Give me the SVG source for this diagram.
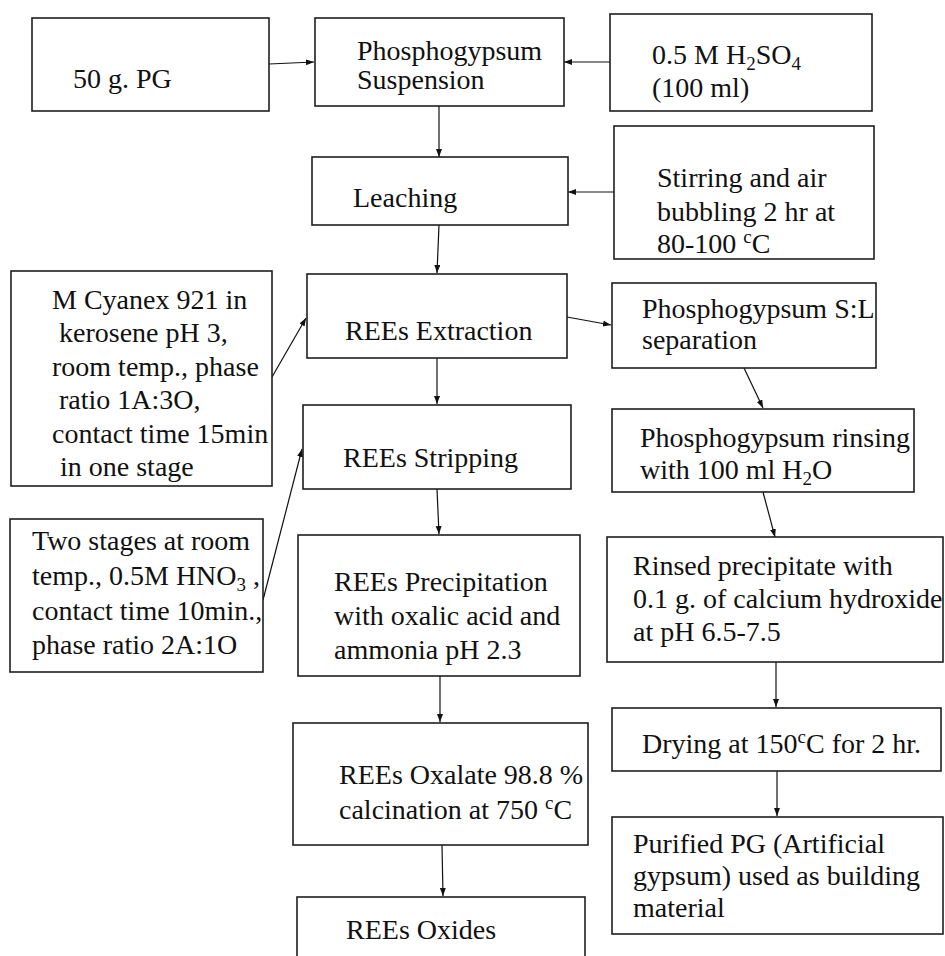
<svg xmlns="http://www.w3.org/2000/svg" width="945" height="956" viewBox="0 0 945 956">
<style>
.box{fill:#fff;stroke:#1e1e1e;stroke-width:1.6}
.t{font-family:"Liberation Serif","Times New Roman",serif;font-size:28px;fill:#111}
.c{stroke:#111;stroke-width:1.2;fill:none;marker-end:url(#ah)}
.sub{font-size:19px}
</style>
<defs>
<marker id="ah" markerUnits="userSpaceOnUse" markerWidth="9" markerHeight="7" refX="8" refY="3" orient="auto">
<path d="M0,0 L8,3 L0,6 z" fill="#111"/>
</marker>
</defs>
<rect width="945" height="956" fill="#fff"/>
<g id="connectors">
<line class="c" x1="269" y1="64" x2="314" y2="62"/>
<line class="c" x1="610" y1="62" x2="564" y2="62"/>
<line class="c" x1="439" y1="106" x2="439" y2="157"/>
<line class="c" x1="614" y1="192" x2="568" y2="192"/>
<line class="c" x1="439" y1="225" x2="437" y2="273"/>
<line class="c" x1="272" y1="377" x2="306" y2="318"/>
<line class="c" x1="567" y1="317" x2="611" y2="325"/>
<line class="c" x1="744" y1="368" x2="763" y2="408"/>
<line class="c" x1="437" y1="358" x2="437" y2="404"/>
<line class="c" x1="263" y1="600" x2="302" y2="449"/>
<line class="c" x1="763" y1="492" x2="775" y2="537"/>
<line class="c" x1="437" y1="489" x2="439" y2="534"/>
<line class="c" x1="440" y1="676" x2="440" y2="722"/>
<line class="c" x1="442" y1="845" x2="443" y2="896"/>
<line class="c" x1="776" y1="662" x2="776" y2="707"/>
<line class="c" x1="777" y1="771" x2="777" y2="816"/>
</g>
<g id="n-pg">
<rect class="box" x="32" y="18" width="237" height="93"/>
<text class="t" x="73" y="88">50 g. PG</text>
</g>
<g id="n-suspension">
<rect class="box" x="315" y="18" width="249" height="88"/>
<text class="t" x="357" y="60">Phosphogypsum</text>
<text class="t" x="357" y="89">Suspension</text>
</g>
<g id="n-h2so4">
<rect class="box" x="610" y="14" width="262" height="97"/>
<text class="t" x="652" y="64">0.5 M H<tspan class="sub" dy="6">2</tspan><tspan dy="-6">SO</tspan><tspan class="sub" dy="6">4</tspan></text>
<text class="t" x="652" y="97">(100 ml)</text>
</g>
<g id="n-leaching">
<rect class="box" x="312" y="157" width="256" height="68"/>
<text class="t" x="353" y="207">Leaching</text>
</g>
<g id="n-stirring">
<rect class="box" x="614" y="126" width="260" height="133"/>
<text class="t" x="657" y="187">Stirring and air</text>
<text class="t" x="657" y="221">bubbling 2 hr at</text>
<text class="t" x="657" y="253">80-100 <tspan class="sub" dy="-10">c</tspan><tspan dy="10">C</tspan></text>
</g>
<g id="n-extraction">
<rect class="box" x="307" y="274" width="260" height="84"/>
<text class="t" x="345" y="340">REEs Extraction</text>
</g>
<g id="n-cyanex">
<rect class="box" x="11" y="271" width="261" height="215"/>
<text class="t" x="52" y="309">M Cyanex 921 in</text>
<text class="t" x="59" y="342">kerosene pH 3,</text>
<text class="t" x="52" y="376">room temp., phase</text>
<text class="t" x="59" y="409">ratio 1A:3O,</text>
<text class="t" x="52" y="443">contact time 15min</text>
<text class="t" x="60" y="476">in one stage</text>
</g>
<g id="n-sl">
<rect class="box" x="612" y="283" width="264" height="85"/>
<text class="t" x="642" y="318">Phosphogypsum S:L</text>
<text class="t" x="642" y="349">separation</text>
</g>
<g id="n-rinsing">
<rect class="box" x="612" y="409" width="302" height="83"/>
<text class="t" x="640" y="447">Phosphogypsum rinsing</text>
<text class="t" x="640" y="479">with 100 ml H<tspan class="sub" dy="6">2</tspan><tspan dy="-6">O</tspan></text>
</g>
<g id="n-stripping">
<rect class="box" x="303" y="405" width="268" height="84"/>
<text class="t" x="343" y="467">REEs Stripping</text>
</g>
<g id="n-twostages">
<rect class="box" x="10" y="519" width="253" height="153"/>
<text class="t" x="32" y="550">Two stages at room</text>
<text class="t" x="32" y="585">temp., 0.5M HNO<tspan class="sub" dy="6">3</tspan><tspan dy="-6"> ,</tspan></text>
<text class="t" x="32" y="620">contact time 10min.,</text>
<text class="t" x="32" y="654">phase ratio 2A:1O</text>
</g>
<g id="n-precipitation">
<rect class="box" x="298" y="535" width="282" height="141"/>
<text class="t" x="334" y="591">REEs Precipitation</text>
<text class="t" x="334" y="625">with oxalic acid and</text>
<text class="t" x="334" y="659">ammonia pH 2.3</text>
</g>
<g id="n-oxalate">
<rect class="box" x="293" y="723" width="295" height="122"/>
<text class="t" x="339" y="784">REEs Oxalate 98.8 %</text>
<text class="t" x="339" y="819">calcination at 750 <tspan class="sub" dy="-10">c</tspan><tspan dy="10">C</tspan></text>
</g>
<g id="n-oxides">
<rect class="box" x="297" y="897" width="288" height="80"/>
<text class="t" x="346" y="939">REEs Oxides</text>
</g>
<g id="n-rinsed">
<rect class="box" x="607" y="537" width="336" height="125"/>
<text class="t" x="633" y="575">Rinsed precipitate with</text>
<text class="t" x="633" y="608">0.1 g. of calcium hydroxide</text>
<text class="t" x="633" y="641">at pH 6.5-7.5</text>
</g>
<g id="n-drying">
<rect class="box" x="612" y="708" width="329" height="63"/>
<text class="t" x="642" y="753">Drying at 150<tspan class="sub" dy="-10">c</tspan><tspan dy="10">C for 2 hr.</tspan></text>
</g>
<g id="n-purified">
<rect class="box" x="612" y="817" width="331" height="117"/>
<text class="t" x="633" y="853">Purified PG (Artificial</text>
<text class="t" x="633" y="885">gypsum) used as building</text>
<text class="t" x="633" y="917">material</text>
</g>
</svg>
